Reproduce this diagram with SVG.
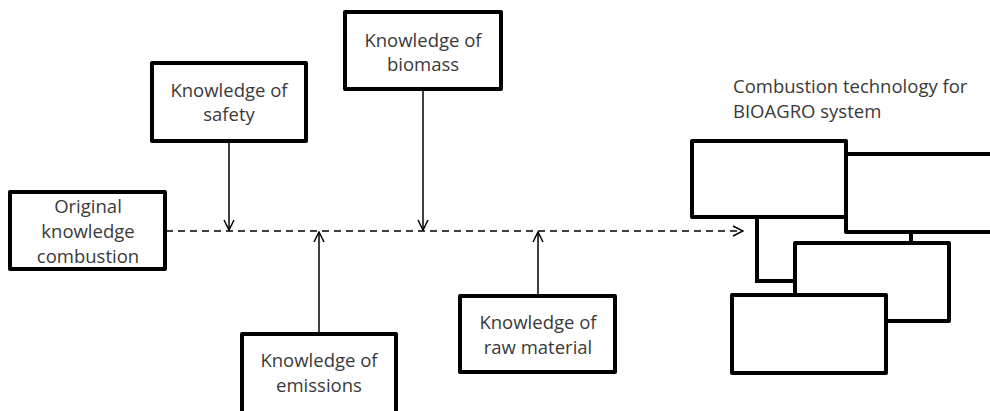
<svg xmlns="http://www.w3.org/2000/svg" width="990" height="411" viewBox="0 0 990 411">
  <style>
    .box { fill: #ffffff; stroke: #000000; stroke-width: 4; stroke-linejoin: round; }
    .label { font-family: "Open Sans", "Liberation Sans", sans-serif; font-size: 18.5px; fill: #3a3a3a; text-anchor: middle; }
    .title { font-family: "Open Sans", "Liberation Sans", sans-serif; font-size: 18.5px; fill: #3a3a3a; }
    .link { fill: none; stroke: #000000; stroke-width: 1.5; }
    .main { fill: none; stroke: #000000; stroke-width: 1.5; stroke-dasharray: 7 5; }
    .tie { fill: none; stroke: #000000; stroke-width: 4; }
  </style>
  <defs>
    <marker id="open" viewBox="0 0 12 12" refX="11" refY="6" markerWidth="12" markerHeight="12" markerUnits="userSpaceOnUse" orient="auto">
      <path d="M1,1 L11,6 L1,11" fill="none" stroke="#000000" stroke-width="1.5"/>
    </marker>
  </defs>

  <!-- connectors -->
  <g id="connectors">
    <line class="main" x1="166" y1="231" x2="743" y2="231" marker-end="url(#open)"/>
    <line class="link" x1="229" y1="141" x2="229" y2="230" marker-end="url(#open)"/>
    <line class="link" x1="423" y1="89" x2="423" y2="230" marker-end="url(#open)"/>
    <line class="link" x1="319" y1="334" x2="319" y2="232" marker-end="url(#open)"/>
    <line class="link" x1="538" y1="296" x2="538" y2="232" marker-end="url(#open)"/>
  </g>

  <g id="original">
    <rect class="box" x="10" y="192" width="155" height="77"/>
    <text class="label" x="88" y="213">Original</text>
    <text class="label" x="88" y="238">knowledge</text>
    <text class="label" x="88" y="263">combustion</text>
  </g>

  <g id="safety">
    <rect class="box" x="152" y="63" width="154" height="78"/>
    <text class="label" x="229" y="97">Knowledge of</text>
    <text class="label" x="229" y="121">safety</text>
  </g>

  <g id="biomass">
    <rect class="box" x="345" y="12" width="156" height="77"/>
    <text class="label" x="423" y="47">Knowledge of</text>
    <text class="label" x="423" y="71">biomass</text>
  </g>

  <g id="emissions">
    <rect class="box" x="242" y="334" width="154" height="80"/>
    <text class="label" x="319" y="367">Knowledge of</text>
    <text class="label" x="319" y="392">emissions</text>
  </g>

  <g id="raw-material">
    <rect class="box" x="460" y="296" width="155" height="76"/>
    <text class="label" x="538" y="329">Knowledge of</text>
    <text class="label" x="538" y="354">raw material</text>
  </g>

  <!-- combustion technology cluster -->
  <g id="bioagro">
    <text class="title" x="733" y="93">Combustion technology for</text>
    <text class="title" x="733" y="118">BIOAGRO system</text>
    <path class="tie" d="M757,217 V281 H795"/>
    <line class="tie" x1="911" y1="232" x2="911" y2="243"/>
    <rect class="box" x="846" y="154" width="160" height="78"/>
    <rect class="box" x="692" y="141" width="154" height="76"/>
    <rect class="box" x="795" y="243" width="154" height="78"/>
    <rect class="box" x="732" y="295" width="154" height="78"/>
  </g>
</svg>
